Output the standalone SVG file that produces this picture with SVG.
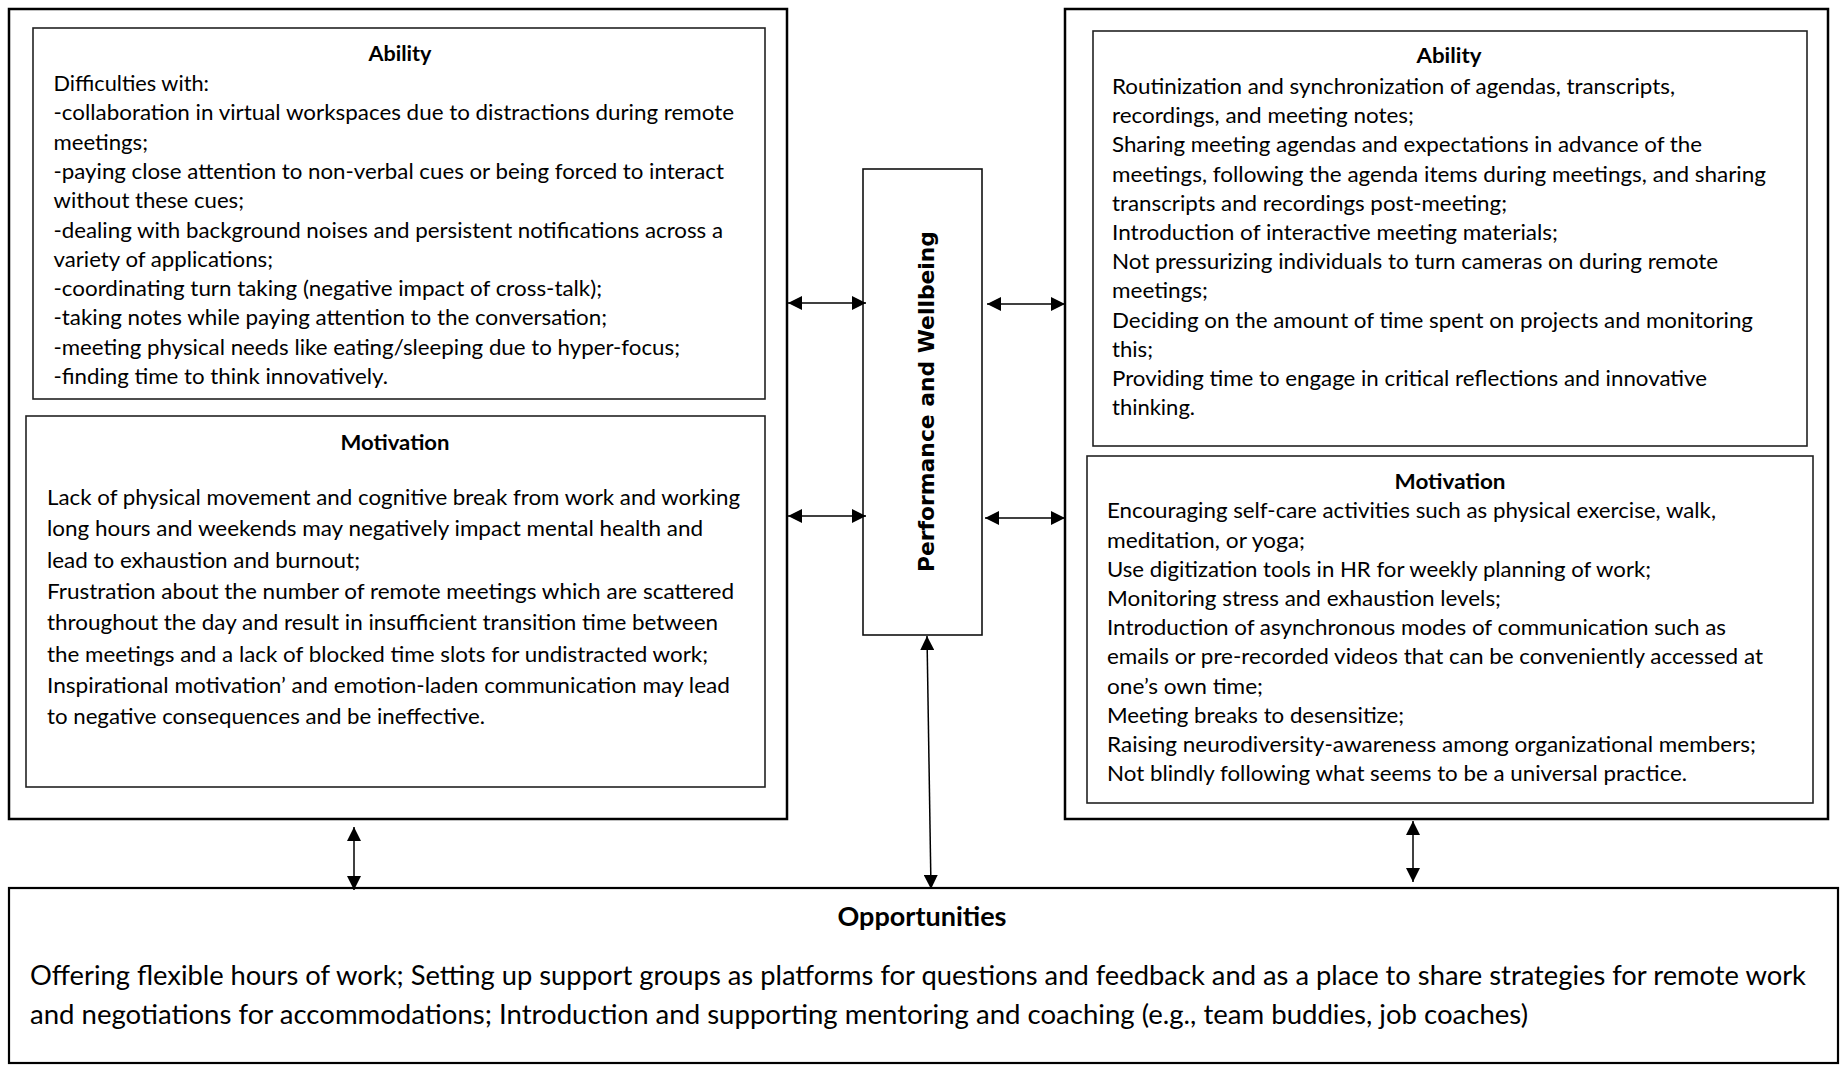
<svg xmlns="http://www.w3.org/2000/svg" width="1843" height="1065" viewBox="0 0 1843 1065">
<style>
.outer{fill:none;stroke:#000;stroke-width:2.5}
.inner{fill:none;stroke:#222;stroke-width:1.6}
.t{font-family:Lato,"Open Sans","Liberation Sans",sans-serif;font-size:21.5px;fill:#000}
.h{font-family:Lato,"Open Sans","Liberation Sans",sans-serif;font-size:21.5px;font-weight:bold;fill:#000;text-anchor:middle}
.ot{font-family:Lato,"Open Sans","Liberation Sans",sans-serif;font-size:26px;fill:#000}
.oh{font-family:Lato,"Open Sans","Liberation Sans",sans-serif;font-size:26px;font-weight:bold;fill:#000;text-anchor:middle}
.pw{font-family:"DejaVu Sans","Liberation Sans",sans-serif;font-size:22px;font-weight:bold;fill:#000;text-anchor:middle}
.c{stroke:#000;stroke-width:1.5;fill:none}
</style>
<defs>
<marker id="ah" viewBox="0 0 14 14" refX="14" refY="7" markerWidth="14" markerHeight="14" markerUnits="userSpaceOnUse" orient="auto-start-reverse">
<path d="M0,0 L14,7 L0,14 Z" fill="#000"/>
</marker>
</defs>
<rect width="1843" height="1065" fill="#fff"/>

<g id="left-panel">
<rect class="outer" x="9" y="9" width="778" height="810"/>
</g>
<g id="left-ability">
<rect class="inner" x="33" y="28" width="732" height="371"/>
<text class="h" x="400" y="61" textLength="63" lengthAdjust="spacingAndGlyphs">Ability</text>
<text class="t" x="53.5" y="91" textLength="155.5" lengthAdjust="spacingAndGlyphs">Difficulties with:</text>
<text class="t" x="53.5" y="120.3" textLength="680.5" lengthAdjust="spacingAndGlyphs">-collaboration in virtual workspaces due to distractions during remote</text>
<text class="t" x="53.5" y="149.6" textLength="94.5" lengthAdjust="spacingAndGlyphs">meetings;</text>
<text class="t" x="53.5" y="178.9" textLength="670.5" lengthAdjust="spacingAndGlyphs">-paying close attention to non-verbal cues or being forced to interact</text>
<text class="t" x="53.5" y="208.2" textLength="190.5" lengthAdjust="spacingAndGlyphs">without these cues;</text>
<text class="t" x="53.5" y="237.5" textLength="669.5" lengthAdjust="spacingAndGlyphs">-dealing with background noises and persistent notifications across a</text>
<text class="t" x="53.5" y="266.8" textLength="219.5" lengthAdjust="spacingAndGlyphs">variety of applications;</text>
<text class="t" x="53.5" y="296.1" textLength="548.5" lengthAdjust="spacingAndGlyphs">-coordinating turn taking (negative impact of cross-talk);</text>
<text class="t" x="53.5" y="325.4" textLength="553.5" lengthAdjust="spacingAndGlyphs">-taking notes while paying attention to the conversation;</text>
<text class="t" x="53.5" y="354.7" textLength="626.5" lengthAdjust="spacingAndGlyphs">-meeting physical needs like eating/sleeping due to hyper-focus;</text>
<text class="t" x="53.5" y="384" textLength="334.5" lengthAdjust="spacingAndGlyphs">-finding time to think innovatively.</text>
</g>
<g id="left-motivation">
<rect class="inner" x="26" y="416" width="739" height="371"/>
<text class="h" x="395" y="450" textLength="109" lengthAdjust="spacingAndGlyphs">Motivation</text>
<text class="t" x="47" y="505" textLength="693" lengthAdjust="spacingAndGlyphs">Lack of physical movement and cognitive break from work and working</text>
<text class="t" x="47" y="536.3" textLength="656" lengthAdjust="spacingAndGlyphs">long hours and weekends may negatively impact mental health and</text>
<text class="t" x="47" y="567.6" textLength="313" lengthAdjust="spacingAndGlyphs">lead to exhaustion and burnout;</text>
<text class="t" x="47" y="598.9" textLength="687" lengthAdjust="spacingAndGlyphs">Frustration about the number of remote meetings which are scattered</text>
<text class="t" x="47" y="630.2" textLength="671" lengthAdjust="spacingAndGlyphs">throughout the day and result in insufficient transition time between</text>
<text class="t" x="47" y="661.5" textLength="661" lengthAdjust="spacingAndGlyphs">the meetings and a lack of blocked time slots for undistracted work;</text>
<text class="t" x="47" y="692.8" textLength="683" lengthAdjust="spacingAndGlyphs">Inspirational motivation’ and emotion-laden communication may lead</text>
<text class="t" x="47" y="724.1" textLength="438" lengthAdjust="spacingAndGlyphs">to negative consequences and be ineffective.</text>
</g>

<g id="performance-wellbeing">
<rect class="inner" x="863" y="169" width="119" height="466" style="stroke:#111"/>
<text class="pw" x="934" y="401.5" transform="rotate(-90 934 401.5)" textLength="341" lengthAdjust="spacingAndGlyphs">Performance and Wellbeing</text>
</g>

<g id="right-panel">
<rect class="outer" x="1065" y="9" width="763" height="810"/>
</g>
<g id="right-ability">
<rect class="inner" x="1093" y="31" width="714" height="415"/>
<text class="h" x="1449" y="63" textLength="65" lengthAdjust="spacingAndGlyphs">Ability</text>
<text class="t" x="1112" y="94" textLength="563" lengthAdjust="spacingAndGlyphs">Routinization and synchronization of agendas, transcripts,</text>
<text class="t" x="1112" y="123.2" textLength="302" lengthAdjust="spacingAndGlyphs">recordings, and meeting notes;</text>
<text class="t" x="1112" y="152.4" textLength="590" lengthAdjust="spacingAndGlyphs">Sharing meeting agendas and expectations in advance of the</text>
<text class="t" x="1112" y="181.6" textLength="654" lengthAdjust="spacingAndGlyphs">meetings, following the agenda items during meetings, and sharing</text>
<text class="t" x="1112" y="210.8" textLength="395" lengthAdjust="spacingAndGlyphs">transcripts and recordings post-meeting;</text>
<text class="t" x="1112" y="240" textLength="446" lengthAdjust="spacingAndGlyphs">Introduction of interactive meeting materials;</text>
<text class="t" x="1112" y="269.2" textLength="606" lengthAdjust="spacingAndGlyphs">Not pressurizing individuals to turn cameras on during remote</text>
<text class="t" x="1112" y="298.4" textLength="96" lengthAdjust="spacingAndGlyphs">meetings;</text>
<text class="t" x="1112" y="327.6" textLength="641" lengthAdjust="spacingAndGlyphs">Deciding on the amount of time spent on projects and monitoring</text>
<text class="t" x="1112" y="356.8" textLength="41" lengthAdjust="spacingAndGlyphs">this;</text>
<text class="t" x="1112" y="386" textLength="595" lengthAdjust="spacingAndGlyphs">Providing time to engage in critical reflections and innovative</text>
<text class="t" x="1112" y="415.2" textLength="83" lengthAdjust="spacingAndGlyphs">thinking.</text>
</g>
<g id="right-motivation">
<rect class="inner" x="1087" y="456" width="726" height="347"/>
<text class="h" x="1450" y="489" textLength="111" lengthAdjust="spacingAndGlyphs">Motivation</text>
<text class="t" x="1107" y="518.3" textLength="609" lengthAdjust="spacingAndGlyphs">Encouraging self-care activities such as physical exercise, walk,</text>
<text class="t" x="1107" y="547.5" textLength="198" lengthAdjust="spacingAndGlyphs">meditation, or yoga;</text>
<text class="t" x="1107" y="576.7" textLength="544" lengthAdjust="spacingAndGlyphs">Use digitization tools in HR for weekly planning of work;</text>
<text class="t" x="1107" y="605.9" textLength="394" lengthAdjust="spacingAndGlyphs">Monitoring stress and exhaustion levels;</text>
<text class="t" x="1107" y="635.1" textLength="619" lengthAdjust="spacingAndGlyphs">Introduction of asynchronous modes of communication such as</text>
<text class="t" x="1107" y="664.3" textLength="656" lengthAdjust="spacingAndGlyphs">emails or pre-recorded videos that can be conveniently accessed at</text>
<text class="t" x="1107" y="693.5" textLength="156" lengthAdjust="spacingAndGlyphs">one’s own time;</text>
<text class="t" x="1107" y="722.7" textLength="297" lengthAdjust="spacingAndGlyphs">Meeting breaks to desensitize;</text>
<text class="t" x="1107" y="751.9" textLength="649" lengthAdjust="spacingAndGlyphs">Raising neurodiversity-awareness among organizational members;</text>
<text class="t" x="1107" y="781.1" textLength="580" lengthAdjust="spacingAndGlyphs">Not blindly following what seems to be a universal practice.</text>
</g>

<g id="opportunities">
<rect class="outer" x="9" y="888" width="1829" height="175" style="stroke-width:2.2"/>
<text class="oh" x="922" y="926" textLength="169" lengthAdjust="spacingAndGlyphs">Opportunities</text>
<text class="ot" x="30" y="985" textLength="1776" lengthAdjust="spacingAndGlyphs">Offering flexible hours of work; Setting up support groups as platforms for questions and feedback and as a place to share strategies for remote work</text>
<text class="ot" x="30" y="1024" textLength="1498" lengthAdjust="spacingAndGlyphs">and negotiations for accommodations; Introduction and supporting mentoring and coaching (e.g., team buddies, job coaches)</text>
</g>

<g id="connectors">
<line class="c" x1="788" y1="303" x2="866" y2="303" marker-start="url(#ah)" marker-end="url(#ah)"/>
<line class="c" x1="788" y1="516" x2="866" y2="516" marker-start="url(#ah)" marker-end="url(#ah)"/>
<line class="c" x1="987" y1="304" x2="1065" y2="304" marker-start="url(#ah)" marker-end="url(#ah)"/>
<line class="c" x1="985" y1="518" x2="1065" y2="518" marker-start="url(#ah)" marker-end="url(#ah)"/>
<line class="c" x1="927" y1="636" x2="931" y2="889" marker-start="url(#ah)" marker-end="url(#ah)"/>
<line class="c" x1="354" y1="827" x2="354" y2="890" marker-start="url(#ah)" marker-end="url(#ah)"/>
<line class="c" x1="1413" y1="821" x2="1413" y2="882" marker-start="url(#ah)" marker-end="url(#ah)"/>
</g>
</svg>
